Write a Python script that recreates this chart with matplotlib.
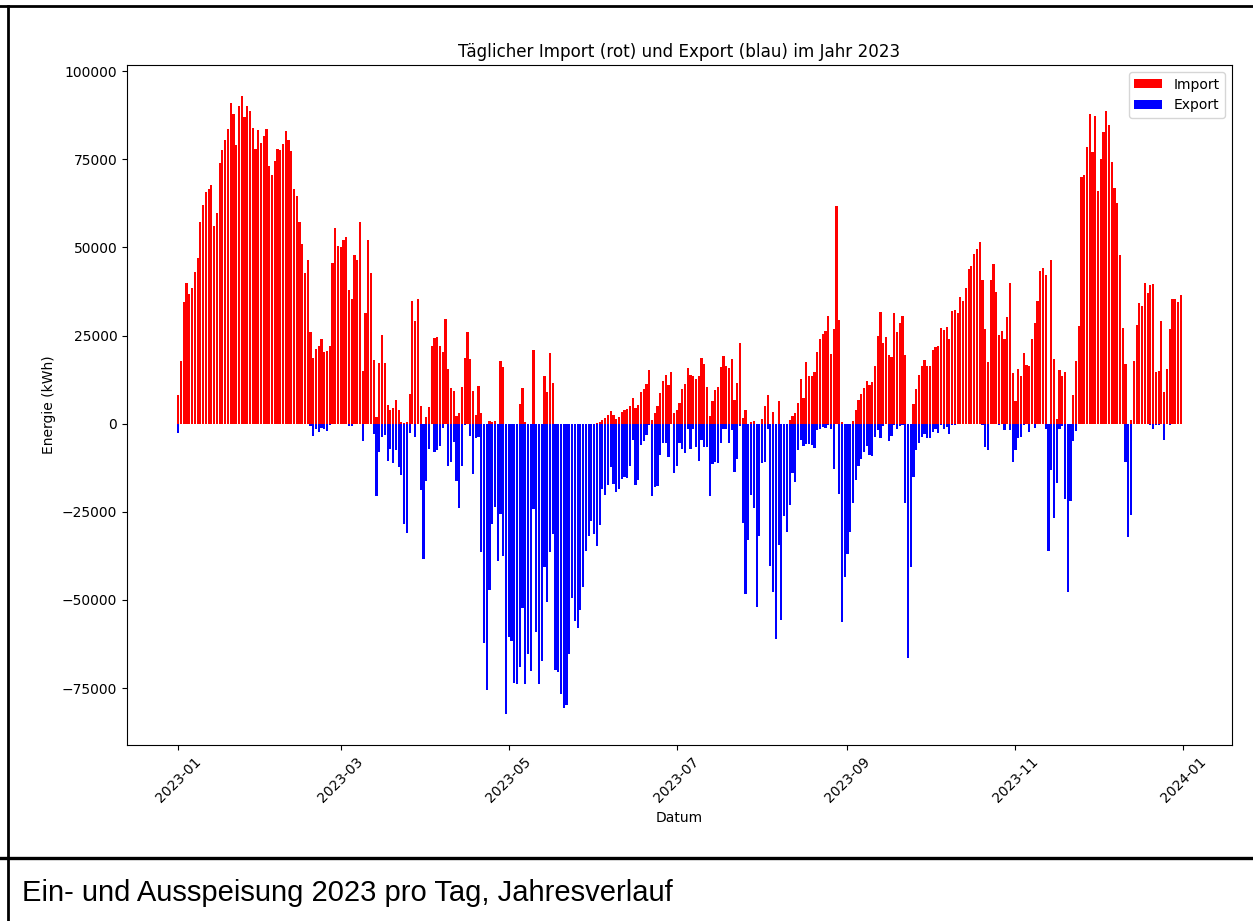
import matplotlib
matplotlib.use("Agg")
import matplotlib.pyplot as plt
import matplotlib.dates as mdates
from matplotlib.lines import Line2D
import pandas as pd

# ---- data (kWh per day, 2023) ----
dates = pd.date_range("2023-01-01", "2023-12-31", freq="D")

import_kwh = [
    # d0-34
    8000, 17900, 34500, 40000, 36900, 38400, 43000, 46900, 57250, 62100, 65600, 66600, 67600, 56000, 59900,
    74000, 77750, 80500, 83750, 91000, 88000, 79000, 90000, 93000, 87000, 90000, 88600, 83900, 78000, 83400,
    79600, 81500, 83600, 73000, 70600,
    # d35-70
    74600, 78000, 77750, 79250, 83000, 80400, 77250, 66500, 64500, 57250, 51100, 42750, 46500, 26000, 18500,
    21250, 22100, 24000, 20250, 20750, 22100, 45600, 55500, 50500, 50250, 52250, 52900, 37900, 35250, 48000,
    46500, 57250, 15000, 31500, 52100, 42750,
    # d71-107
    18100, 2000, 17100, 25100, 17100, 5400, 4000, 4500, 6600, 4000, 500, 100, 500, 8400, 34900, 29100, 35250,
    5100, 0, 1900, 4750, 21900, 24250, 24500, 22100, 20400, 29600, 15500, 10000, 9400, 2250, 2900, 10400,
    18750, 26000, 18400, 9250,
    # d108-144
    2400, 10600, 3000, 0, 0, 900, 500, 750, 0, 17900, 16100, 0, 0, 0, 0, 0, 5600, 10100, 500, 0, 0, 20900,
    0, 0, 0, 13400, 8900, 20100, 11500, 0, 0, 0, 0, 0, 0, 0, 0,
    # d145-180
    0, 0, 0, 0, 0, 0, 0, 250, 600, 1100, 1500, 2400, 3600, 2600, 1400, 2000, 3400, 4000, 4250, 5100, 7250,
    4400, 5250, 8900, 9900, 11250, 15250, 1100, 2900, 5100, 8600, 12000, 13750, 11100, 14600, 3000,
    # d181-182
    4000, 6000,
    # d183-217
    9900, 11250, 15900, 13900, 13400, 12750, 13400, 18500, 17000, 10500, 2250, 6500, 9500, 10400, 16000,
    19100, 16500, 15900, 18400, 6600, 11500, 22750, 1500, 3900, 0, 400, 900, 0, 0, 1400, 5100, 8250, 0,
    3400, 0,
    # d218-254
    6400, 0, 0, 0, 1000, 2100, 3100, 6000, 12600, 7400, 17500, 13600, 13600, 14600, 20400, 23900, 25400,
    26400, 30500, 19900, 26750, 61750, 29400, 600, 0, 0, 0, 750, 3900, 6600, 8400, 10100, 12100, 11100,
    11750, 16250, 24900,
    # d255-291
    31750, 22900, 24500, 19600, 19000, 31400, 26100, 28500, 30600, 19600, 0, 0, 5600, 9900, 13900, 16500,
    18000, 16500, 16500, 21000, 21750, 22100, 27100, 26500, 27400, 23900, 32000, 32250, 31400, 35900, 34900,
    38600, 44000, 44750, 48250, 49500, 51500,
    # d292-328
    40900, 26900, 17600, 40900, 45250, 37500, 25250, 26250, 23900, 30250, 40000, 14400, 6500, 15500, 13600,
    20100, 16750, 16500, 24000, 28600, 34900, 43400, 44100, 42100, 0, 46500, 18400, 1250, 15250, 13600,
    14750, 0, 0, 8000, 17900, 27750, 69900,
    # d329-364
    70600, 78600, 87750, 77000, 87400, 66000, 75100, 82750, 88750, 84750, 74250, 66900, 62750, 48000, 27250,
    16900, 0, 1100, 17900, 28000, 34100, 33400, 40000, 37000, 39250, 39500, 14750, 15000, 29100, 8900,
    15400, 26750, 35500, 35500, 34500, 36600,
]

export_kwh = (
    [-2600] + [0] * 47                                              # d0-47
    + [-750, -3600, -1600, -2400, -1100, -1400, -2000, -400]        # d48-55
    + [0] * 6 + [-600, -750, 0, 0, 0, -4900, 0, 0, 0]               # d56-70
    + [-3000, -20400, -7900, -3900, -3100, -10600, -7100, -11100, -7500, -12250,
       -14500, -28500, -30900, -2600, 0, -3750, 0, -18750, -38500, -16250,
       -7250, 0, -7900, -7400, -6250, -1100, 0, -12100, -10750, -5250,
       -16250, -23900, -12000, -400, 0, -3500, -14400]              # d71-107
    + [-4000, -3900, -36400, -62250, -75600, -47250, -28500, -23500, -39000, -25750,
       -37500, -82400, -60400, -61600, -73500, -73900, -68900, -52250, -73750, -65400,
       -70250, -24250, -59000, -74000, -67250, -40600, -50600, -36400, -31250, -69900,
       -70400, -76750, -80600, -79900, -65400, -49400, -56100]      # d108-144
    + [-57900, -52900, -46250, -36100, -32000, -27750, -31250, -34750, -28750, -18400,
       -20250, -17400, -12400, -17250, -19250, -18600, -15750, -15100, -15400, -11900,
       -4500, -17400, -16100, -6000, -5000, -3100, -250, -20400, -18100, -17750,
       -8900, -5500, -5500, -9400, 0, -14100]                       # d145-180
    + [-12000, -5500]                                               # d181-182
    + [-7100, -8250, -1600, -7250, -1400, -6750, -10600, -4600, -6600, -6600,
       -20400, -11400, -11000, -11100, -5600, -1500, -1600, -5400, -1750, -13750,
       -9900, -750, -28250, -48250, -32900, -20250, -23900, -52000, -31900, -11250,
       -11000, -1600, -40400, -47750, -61000]                       # d183-217
    + [-34500, -55750, -26250, -30750, -23100, -14100, -16600, -7400, -4600, -6250,
       -5900, -5900, -6100, -6900, -1900, -1600, -1000, -1100, -300, -1600,
       -12900, 0, -20000, -56400, -43600, -36900, -30600, -22500, -15900, -11900,
       -10000, -8100, -6400, -8900, -9250, -3750, -1750]            # d218-254
    + [-4000, -600, 0, -4900, -3500, -250, -1400, -750, -500, -22600,
       -66600, -40750, -15100, -7600, -5600, -3750, -3000, -4100, -4100, -2250,
       -1400, -2750, -250, -1600, -1000, -2900, -250, -300, 0, 0,
       0, 0, 0, 0, 0, 0, 0]                                         # d255-291
    + [-250, -6600, -7500, 0, 0, 0, -250, 0, -1750, 0,
       -1900, -10750, -7500, -4100, -3900, -250, 0, -2400, 0, -1100,
       0, 0, 0, -1600, -36250, -13250, -26900, -16900, -1600, -750,
       -21400, -47900, -21900, -5000, -2000, 0, 0]                  # d292-328
    + [0] * 15 + [-11000, -32250, -26000] + [0] * 6
    + [-250, -1600, -250, -250, 0, -4750, 0, -250, 0, 0, 0, 0]      # d329-364
)

title = "Täglicher Import (rot) und Export (blau) im Jahr 2023"
caption = "Ein- und Ausspeisung 2023 pro Tag, Jahresverlauf"

assert len(import_kwh) == 365, len(import_kwh)
assert len(export_kwh) == 365, len(export_kwh)

W, H = 1253, 921
fig = plt.figure(figsize=(W / 100, H / 100), dpi=100)
fig.patch.set_facecolor("white")

ax = fig.add_axes([127 / W, 1 - 745 / H, 1105 / W, 680 / H])
ax.bar(dates, import_kwh, color="red", label="Import")
ax.bar(dates, export_kwh, color="blue", label="Export")

ax.xaxis.set_major_locator(mdates.MonthLocator(bymonth=[1, 3, 5, 7, 9, 11]))
ax.xaxis.set_major_formatter(mdates.DateFormatter("%Y-%m"))
for lbl in ax.get_xticklabels():
    lbl.set_rotation(45)
ax.tick_params(labelsize=10)
ax.set_title(title, fontsize=12.1)
ax.set_xlabel("Datum", fontsize=10)
ax.set_ylabel("Energie (kWh)", fontsize=10)
ax.legend(loc="upper right", fontsize=10)

# frame of the surrounding table
lw = 2.0
def fline(x0, y0, x1, y1, w=lw):
    fig.add_artist(Line2D([x0 / W, x1 / W], [1 - y0 / H, 1 - y1 / H], color="black", linewidth=w))

fline(0, 6, W, 6)
fline(8, 6, 8, H)
fline(0, 858, W, 858, 2.4)

fig.text(22 / W, 1 - 893 / H, caption, fontsize=21, family="Liberation Sans", va="center", ha="left")

fig.savefig("out.png", dpi=100)
